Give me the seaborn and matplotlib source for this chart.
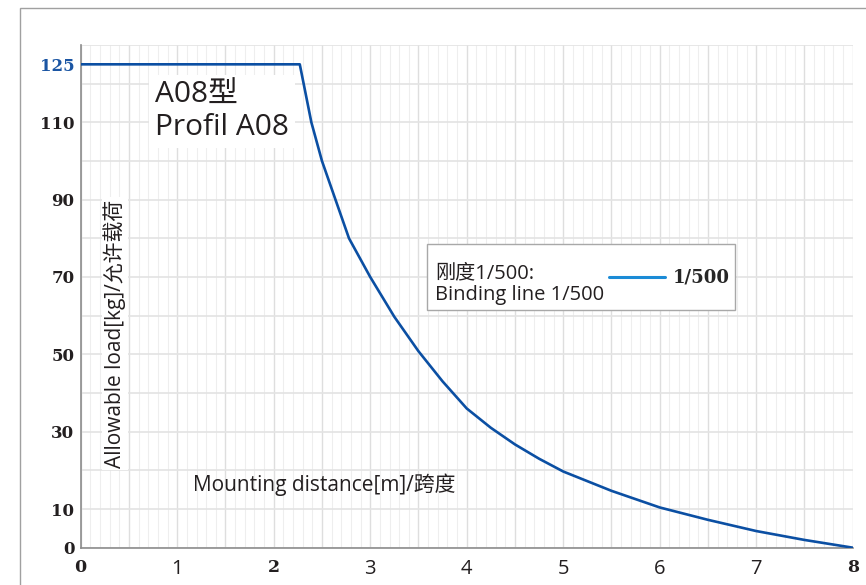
import numpy as np
import pandas as pd
import seaborn as sns
import matplotlib.pyplot as plt
from matplotlib.lines import Line2D
from matplotlib.patches import Rectangle

# %%
# values
distance = [0, 2.27, 2.39, 2.5, 2.64, 2.78, 3.0, 3.25, 3.5, 3.75, 4.0,
            4.25, 4.5, 4.75, 5.0, 5.5, 6.0, 6.5, 7.0, 7.5, 8.0]
load = [125, 125, 110, 100, 90, 80, 70, 59.7, 50.8, 43, 36,
        31, 26.7, 23, 19.7, 14.7, 10.4, 7.2, 4.3, 2.0, 0]

x_ticks = np.arange(0, 8.01, 0.5)
x_tick_labels = [str(int(v)) if v == int(v) else '' for v in x_ticks]
serif_x_labels = ['0', '2', '8']

y_ticks = np.arange(0, 131, 10)
y_tick_labels = ['0', '10', '', '30', '', '50', '', '70', '', '90', '', '110', '', '']
y_minor_ticks = np.arange(5, 130, 10)
y_minor_labels = ['' if v != 125 else '125' for v in y_minor_ticks]

df = pd.DataFrame({'distance': distance, 'load': load})

# %%
sns.set_style('white')
plt.rcParams['font.family'] = ['Noto Sans CJK SC', 'DejaVu Sans']

line_color = '#0b4fa3'
axis_color = '#8c8c8c'
text_color = '#231f20'
serif_bold = dict(family='DejaVu Serif', weight='bold')
sans_fam = ['Open Sans', 'Noto Sans CJK SC']

fig = plt.figure(figsize=(8.66, 5.85), dpi=100)
ax = fig.add_axes([0.0932, 0.0638, 0.8915, 0.8593])

sns.lineplot(data=df, x='distance', y='load', ax=ax, color=line_color,
             linewidth=1.9, zorder=5)

ax.set_xlim(0, 8)
ax.set_ylim(0, 130)

ax.set_xticks(x_ticks, labels=x_tick_labels)
ax.set_xticks(np.arange(0, 8.01, 0.1), minor=True)
ax.set_yticks(y_ticks, labels=y_tick_labels)
ax.set_yticks(y_minor_ticks, labels=y_minor_labels, minor=True)

ax.grid(which='major', axis='x', color='#dedede', linewidth=1.0)
ax.grid(which='minor', axis='x', color='#eeeeee', linewidth=0.8)
ax.grid(which='major', axis='y', color='#e3e3e3', linewidth=1.2)
ax.set_axisbelow(True)

for side in ['top', 'right']:
    ax.spines[side].set_visible(False)
for side in ['left', 'bottom']:
    ax.spines[side].set_color(axis_color)
    ax.spines[side].set_linewidth(1.2)

ax.tick_params(axis='x', which='major', direction='inout', length=6, width=1,
               color=axis_color, pad=5)
ax.tick_params(axis='x', which='minor', direction='in', length=2.5, width=0.8,
               color=axis_color)
ax.tick_params(axis='y', which='both', direction='out', length=3.5, width=1,
               color=axis_color, pad=1)

for lab in ax.get_xticklabels():
    if lab.get_text() in serif_x_labels:
        lab.set_fontproperties(serif_bold)
        lab.set_fontsize(12.5)
    else:
        lab.set_family(sans_fam)
        lab.set_fontsize(14.5)
    lab.set_color(text_color)
for lab in ax.get_yticklabels():
    lab.set_fontproperties(serif_bold)
    lab.set_fontsize(12)
    lab.set_color(text_color)
for lab in ax.get_yticklabels(minor=True):
    lab.set_fontproperties(serif_bold)
    lab.set_fontsize(12)
    lab.set_color('#1a55a3')

ax.set_xlabel('')
ax.set_ylabel('')

# axis titles placed inside the plot, as in the reference
ax.text(0.0444, 0.426, 'Allowable load[kg]/允许载荷', transform=ax.transAxes,
        rotation=90, ha='center', va='center', fontsize=15, color=text_color,
        family=sans_fam,
        bbox=dict(facecolor='white', edgecolor='none', pad=1.5), zorder=6)
ax.text(0.3158, 0.1247, 'Mounting distance[m]/跨度', transform=ax.transAxes,
        ha='center', va='center', fontsize=15, color=text_color,
        family=sans_fam, zorder=6)

ax.text(0.0962, 0.929, 'A08型\nProfil A08', transform=ax.transAxes,
        ha='left', va='top', fontsize=21.5, color=text_color, linespacing=1.17,
        family=sans_fam,
        bbox=dict(facecolor='white', edgecolor='none', pad=4), zorder=6)

# legend box
ax.add_patch(Rectangle((0.449, 0.4728), 0.3986, 0.1313, transform=ax.transAxes,
                       facecolor='white', edgecolor='#a8a8a8', linewidth=1.0,
                       zorder=6))
ax.text(0.459, 0.5246, '刚度1/500:\nBinding line 1/500', transform=ax.transAxes,
        ha='left', va='center', fontsize=14.5, color=text_color, linespacing=1.1,
        family=sans_fam, zorder=7)
leg_handle = Line2D([], [], color='#1b8bd6', linewidth=2.2)
leg = ax.legend(handles=[leg_handle], labels=['1/500'], loc='center left',
                bbox_to_anchor=(0.6636, 0.5365), frameon=False,
                prop=dict(family='DejaVu Serif', weight='bold', size=13),
                handlelength=3.1, handletextpad=0.4)
leg.set_zorder(8)

# outer frame of the picture
fig.add_artist(Rectangle((20 / 866, -0.2), 1.2, 1.2 - 7.5 / 585,
                         transform=fig.transFigure, facecolor='none',
                         edgecolor='#a0a0a0', linewidth=1.0))

plt.savefig('out.png', dpi=100)
